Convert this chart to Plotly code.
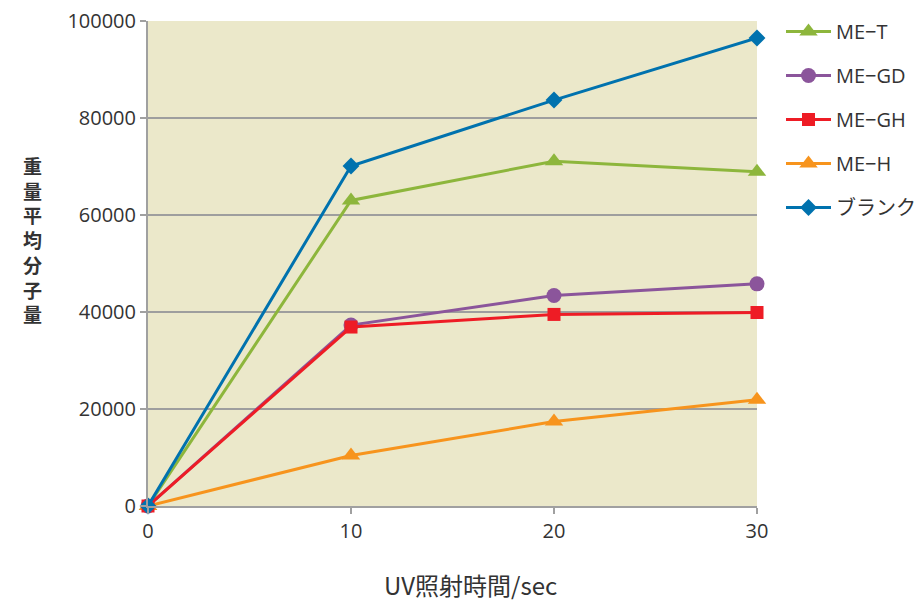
import plotly.graph_objects as go

x_sec = [0, 10, 20, 30]
series_names = ["ME−T", "ME−GD", "ME−GH", "ME−H", "ブランク"]
me_t = [0, 63000, 71100, 68900]
me_gd = [0, 37300, 43400, 45800]
me_gh = [0, 36900, 39500, 39900]
me_h = [0, 10400, 17400, 21900]
blank = [0, 70100, 83700, 96500]

y_ticks = [0, 20000, 40000, 60000, 80000, 100000]
y_tick_labels = ["0", "20000", "40000", "60000", "80000", "100000"]
x_ticks = [0, 10, 20, 30]
y_title = "重<br>量<br>平<br>均<br>分<br>子<br>量"
x_title = "UV照射時間/sec"

colors = ["#8DB63C", "#8B559B", "#EE1C25", "#F7941D", "#0072AE"]
symbols = ["triangle-up", "circle", "square", "triangle-up", "diamond"]
values = [me_t, me_gd, me_gh, me_h, blank]
msizes = [16, 15, 13, 16, 13]

font_family = "Open Sans, Noto Sans CJK JP, sans-serif"

fig = go.Figure()
draw_order = [0, 1, 3, 2, 4]
for i in draw_order:
    fig.add_trace(go.Scatter(
        x=x_sec, y=values[i], name=series_names[i], mode="lines+markers",
        line=dict(color=colors[i], width=3),
        marker=dict(symbol=symbols[i], size=msizes[i], color=colors[i]),
        cliponaxis=False, legendgroup=series_names[i], legendrank=i + 1,
    ))

W, H = 919, 601
top, bottom = 21, 95
plot_bot_px = H - bottom
plot_h = H - top - bottom

annotations = [
    dict(text=x_title, xref="paper", yref="paper",
         x=(470 - 148) / 609, y=-(584 - plot_bot_px) / plot_h,
         xanchor="center", yanchor="middle", showarrow=False,
         font=dict(size=24, color="#333333", family="Noto Sans CJK JP")),
    dict(text="<b>" + y_title + "</b>", xref="paper", yref="paper",
         x=-(148 - 32) / 609, y=(plot_bot_px - 240) / plot_h,
         xanchor="center", yanchor="middle", showarrow=False, align="center",
         font=dict(size=19, color="#333333", family="Noto Sans CJK JP")),
]

fig.update_layout(
    width=W, height=H,
    margin=dict(l=148, r=162, t=top, b=bottom, autoexpand=False),
    paper_bgcolor="white",
    plot_bgcolor="#EBE8CA",
    font=dict(family=font_family, size=20, color="#333333"),
    showlegend=True,
    legend=dict(
        xref="container", yref="container",
        x=781 / W, y=1 - 12 / H, xanchor="left", yanchor="top",
        font=dict(size=20, color="#333333"),
        tracegroupgap=15, traceorder="grouped", itemwidth=45,
        bgcolor="rgba(0,0,0,0)",
    ),
    xaxis=dict(
        range=[0, 30], tickvals=x_ticks, showgrid=False, zeroline=False,
        showline=True, linecolor="#A0A0A0", linewidth=2, automargin=False,
        ticks="outside", ticklen=6, tickcolor="#A0A0A0", tickwidth=2,
        tickfont=dict(size=20, color="#333333"),
    ),
    yaxis=dict(
        range=[0, 100000], tickvals=y_ticks, ticktext=y_tick_labels, showgrid=True,
        gridcolor="#9E9E9E", gridwidth=1.5, zeroline=False, automargin=False,
        showline=True, linecolor="#A0A0A0", linewidth=2,
        ticks="outside", ticklen=6, tickcolor="#A0A0A0", tickwidth=2,
        tickfont=dict(size=20, color="#333333"),
    ),
    annotations=annotations,
)

fig.write_html("out.html", config={"displayModeBar": False},
               post_script="document.body.style.margin='0px';")
